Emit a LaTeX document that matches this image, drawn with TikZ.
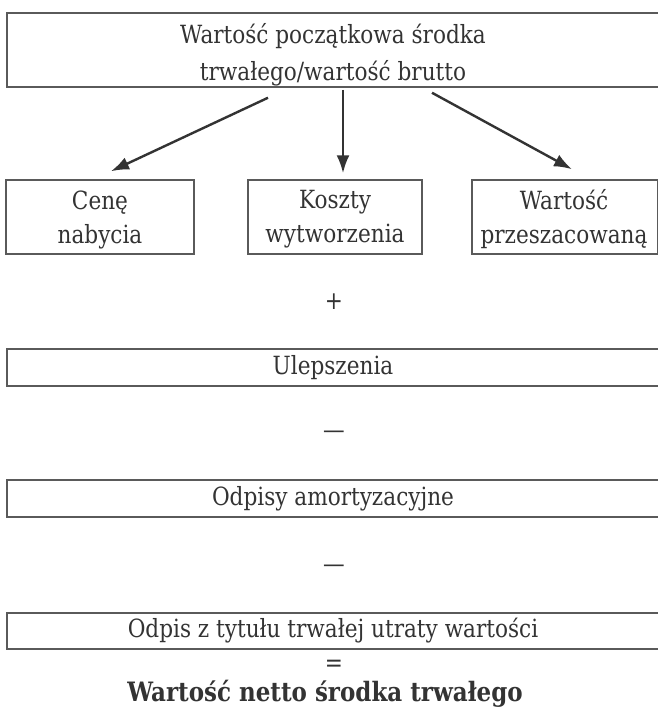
\documentclass[tikz,border=0pt]{standalone}
\usepackage{graphicx}
\usepackage{fontspec}
\setmainfont{DejaVu Serif}
\usetikzlibrary{arrows.meta,calc}
\definecolor{ink}{HTML}{333333}
\definecolor{boxline}{HTML}{5A5A5A}
\newcommand{\vstr}[1]{\scalebox{1}[1.16]{#1}}
\tikzset{
  every node/.style={text=ink},
  txt/.style={font=\fontsize{21.6}{37}\selectfont, align=center, inner sep=0pt},
  frame/.style={draw=boxline, line width=1.5pt, inner sep=0pt},
  bigbox/.style={txt, frame, minimum width=652pt},
  smallbox/.style={frame, minimum height=74pt},
  smalltxt/.style={txt, font=\fontsize{21.6}{34}\selectfont},
  arr/.style={draw=ink, line width=2.4pt, -{Latex[length=18pt,width=13pt]}},
  sign/.style={font=\fontsize{21.6}{24}\selectfont, inner sep=0pt}
}
\begin{document}
\begin{tikzpicture}[x=1pt,y=-1pt]
\useasboundingbox[fill=white] (0,0) rectangle (657,712);
\node[frame, minimum width=652pt, minimum height=74pt] (top) at (333,50) {};
\node[txt] (toptext) at (333,54.5) {\vstr{Wartość początkowa środka}\\\vstr{trwałego/wartość brutto}};
\node[smallbox, minimum width=188pt] (cena) at (100,217) {};
\node[smalltxt] (cenatext) at (100,219.5) {\vstr{Cenę}\\\vstr{nabycia}};
\node[smallbox, minimum width=174pt] (koszt) at (335,217) {};
\node[smalltxt] (koszttext) at (335,219.5) {\vstr{Koszty}\\\vstr{wytworzenia}};
\node[smallbox, minimum width=186pt] (przesz) at (565,217) {};
\node[smalltxt] (przesztext) at (564,219.5) {\vstr{Wartość}\\\vstr{przeszacowaną}};
\draw[arr] ($(top.south)+(-65,10)$) -- ($(cena.north)+(11,-8)$);
\draw[arr] ($(top.south)+(10,2)$) -- ($(koszt.north)+(8,-6)$);
\draw[arr] ($(top.south)+(99,5)$) -- ($(przesz.north)+(7,-10)$);
\node[sign] (plus) at (334,302) {\vstr{+}};
\node[bigbox, minimum height=37pt] (ulep) at (333,367.5) {\vstr{Ulepszenia}};
\node[sign] (minus1) at (334,435) {\vstr{—}};
\node[bigbox, minimum height=37pt] (odpisy) at (333,498.5) {\vstr{Odpisy amortyzacyjne}};
\node[sign] (minus2) at (334,569) {\vstr{—}};
\node[bigbox, minimum height=36pt] (utrata) at (333,631) {\vstr{Odpis z tytułu trwałej utraty wartości}};
\node[sign] (eq) at (334,666) {\vstr{=}};
\node[txt, font=\fontsize{23}{26}\selectfont\bfseries] (netto) at (325,694) {\vstr{Wartość netto środka trwałego}};
\end{tikzpicture}
\end{document}
